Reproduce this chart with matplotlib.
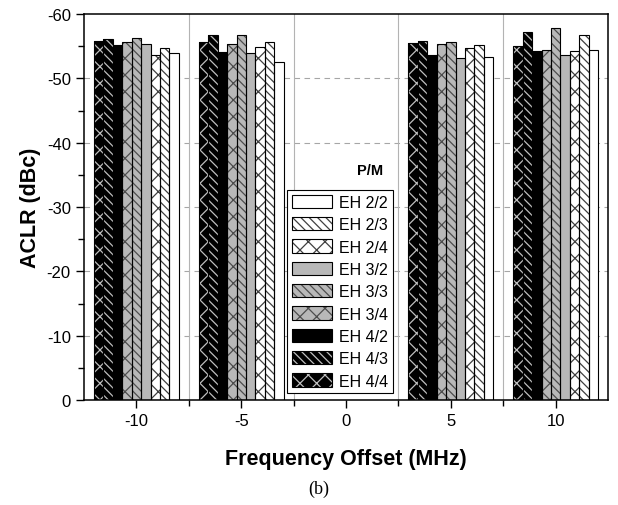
import numpy as np
import matplotlib
matplotlib.use('Agg')
import matplotlib.pyplot as plt
import matplotlib.patches as mpatches
from matplotlib.legend_handler import HandlerTuple

plt.rcParams['font.family'] = ['Liberation Sans', 'DejaVu Sans']
plt.rcParams['hatch.linewidth'] = 0.9
plt.rcParams['axes.unicode_minus'] = False

offsets = [-10, -5, 5, 10]
labels = ['EH 2/2', 'EH 2/3', 'EH 2/4', 'EH 3/2', 'EH 3/3', 'EH 3/4',
          'EH 4/2', 'EH 4/3', 'EH 4/4']

eh22 = [-54.0, -52.6, -53.4, -54.5]
eh23 = [-54.8, -55.7, -55.2, -56.7]
eh24 = [-53.7, -54.9, -54.8, -54.2]
eh32 = [-55.3, -54.0, -53.2, -53.7]
eh33 = [-56.3, -56.7, -55.6, -57.8]
eh34 = [-55.6, -55.3, -55.3, -54.4]
eh42 = [-55.2, -54.1, -53.6, -54.3]
eh43 = [-56.1, -56.7, -55.8, -57.2]
eh44 = [-55.8, -55.7, -55.5, -55.0]
series = [eh22, eh23, eh24, eh32, eh33, eh34, eh42, eh43, eh44]

# fill, hatch, hatch colour
fills = ['white', 'white', 'white', '0.72', '0.72', '0.72', 'black', 'black', 'black']
hatches = ['', '\\\\\\\\', 'xx', '', '\\\\\\\\', 'xx', '', '\\\\\\\\', 'xx']
hcolors = ['0.25', '0.25', '0.25', '0.3', '0.3', '0.3', '0.75', '0.75', '0.75']

fig = plt.figure(figsize=(6.18, 5.06), dpi=100)
ax = fig.add_axes([0.136, 0.2075, 0.848, 0.7625])

w = 0.45
x = np.array(offsets, dtype=float)
handles = []
for i, vals in enumerate(series):
    pos = x + (4 - i) * w
    ax.bar(pos, vals, width=w, color=fills[i], edgecolor=hcolors[i],
           hatch=hatches[i], linewidth=0, zorder=2)
    ax.bar(pos, vals, width=w, fill=False, edgecolor='black',
           linewidth=0.8, zorder=3)
    h1 = mpatches.Patch(facecolor=fills[i], edgecolor=hcolors[i],
                        hatch=hatches[i], linewidth=0)
    h2 = mpatches.Patch(fill=False, edgecolor='black', linewidth=0.8)
    handles.append((h1, h2))

ax.set_xlim(-12.5, 12.5)
ax.set_ylim(0, -60)
ax.set_xticks([-10, -5, 0, 5, 10])
ax.set_xticks([-7.5, -2.5, 2.5, 7.5], minor=True)
ax.set_yticks(np.arange(0, -61, -10))
ax.set_yticks(np.arange(-5, -60, -10), minor=True)
ax.tick_params(which='major', direction='out', length=6, width=1, labelsize=12)
ax.tick_params(which='minor', direction='out', length=4, width=1)

for yv in [-10, -20, -30, -40, -50]:
    ax.axhline(yv, color='0.65', linestyle=(0, (5, 4)), linewidth=0.8, zorder=1)
for xv in [-7.5, -2.5, 2.5, 7.5]:
    ax.axvline(xv, color='0.7', linewidth=0.8, zorder=1)

for s in ax.spines.values():
    s.set_linewidth(1.1)

ax.set_xlabel('Frequency Offset (MHz)', fontsize=15.5, fontweight='bold', labelpad=14)
ax.set_ylabel('ACLR (dBc)', fontsize=15.5, fontweight='bold', labelpad=4)

leg = ax.legend(handles, labels, handler_map={tuple: HandlerTuple(ndivide=1)},
                loc='upper left', bbox_to_anchor=(0.372, 0.565), fontsize=11.5,
                handlelength=2.5, handleheight=0.9, labelspacing=0.45,
                handletextpad=0.45, borderpad=0.3, fancybox=False,
                framealpha=1, edgecolor='black')
leg.get_frame().set_linewidth(0.8)
leg.set_zorder(5)

ax.text(0.545, 0.595, 'P/M', transform=ax.transAxes, fontsize=10.5,
        fontweight='bold', ha='center', va='center', zorder=6)

fig.text(0.515, 0.032, '(b)', family='Liberation Serif', fontsize=13,
         ha='center', va='center')

fig.savefig('out.png', dpi=100)
